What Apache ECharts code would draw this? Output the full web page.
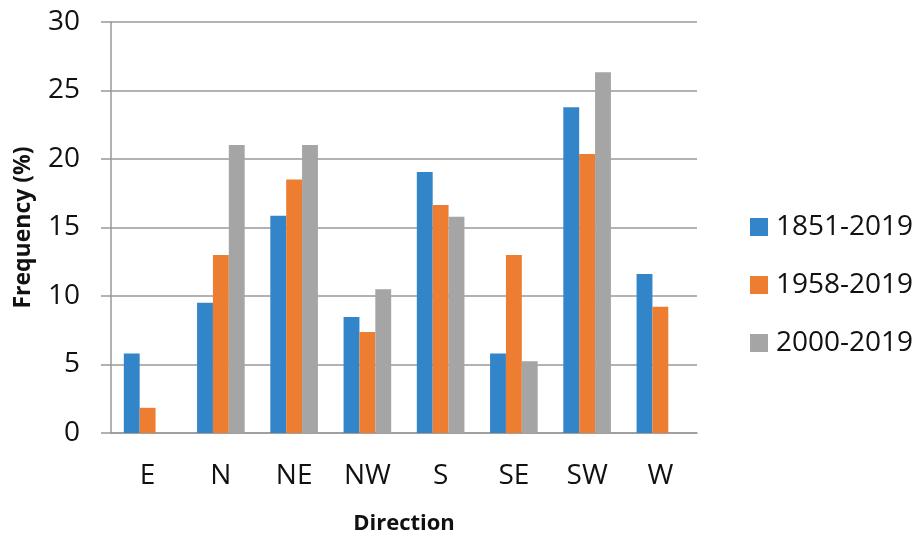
<!DOCTYPE html>
<html><head><meta charset="utf-8">
<script src="https://cdn.jsdelivr.net/npm/echarts@6/dist/echarts.min.js"></script>
<style>html,body{margin:0;padding:0;background:#fff}#c{width:921px;height:540px}</style>
</head><body><div id="c"></div>
<script>
const categories = ['E','N','NE','NW','S','SE','SW','W'];
const seriesNames = ['1851-2019','1958-2019','2000-2019'];
const s1851 = [5.8, 9.5, 15.85, 8.47, 19.05, 5.8, 23.78, 11.6];
const s1958 = [1.84, 13.0, 18.5, 7.38, 16.64, 13.0, 20.37, 9.22];
const s2000 = [null, 21.03, 21.03, 10.5, 15.78, 5.23, 26.34, null];
const yTicks = [0,5,10,15,20,25,30];
const colors = ['#3385C9','#ED7D31','#A5A5A5'];
const FONT = '"Open Sans"';
const chart = echarts.init(document.getElementById('c'));
const mk = (name, data, i) => ({name, type:'bar', data, barGap:'0%', barCategoryGap:'35%', itemStyle:{color:colors[i]}});
chart.setOption({
  animation:false,
  textStyle:{fontFamily:FONT},
  grid:{left:111, right:224, top:22, bottom:99},
  legend:{orient:'vertical', left:750, top:213, padding:0, itemWidth:18, itemHeight:18, itemGap:30,
    icon:'rect', textStyle:{fontSize:28, lineHeight:28, color:'#111', fontFamily:FONT, padding:[0,0,0,3]}, data:seriesNames},
  xAxis:{type:'category', data:categories, name:'Direction', nameLocation:'middle', nameGap:80,
    nameTextStyle:{fontSize:22, fontWeight:'bold', color:'#111', fontFamily:FONT},
    axisLine:{lineStyle:{color:'#999', width:1.5}},
    axisTick:{length:10, lineStyle:{color:'#999', width:1.5}},
    axisLabel:{fontSize:28, color:'#111', margin:29, fontFamily:FONT}},
  yAxis:{type:'value', min:yTicks[0], max:yTicks[yTicks.length-1], interval:5,
    name:'Frequency (%)', nameLocation:'middle', nameGap:76, nameRotate:90,
    nameTextStyle:{fontSize:23, fontWeight:'bold', color:'#111', fontFamily:FONT},
    axisLine:{show:true, lineStyle:{color:'#999', width:1.5}},
    axisTick:{show:true, length:10, lineStyle:{color:'#999', width:1.5}},
    splitLine:{lineStyle:{color:'#999', width:1.5}},
    axisLabel:{fontSize:28, color:'#111', margin:31, fontFamily:FONT}},
  series:[mk(seriesNames[0], s1851, 0), mk(seriesNames[1], s1958, 1), mk(seriesNames[2], s2000, 2)]
});
</script></body></html>
